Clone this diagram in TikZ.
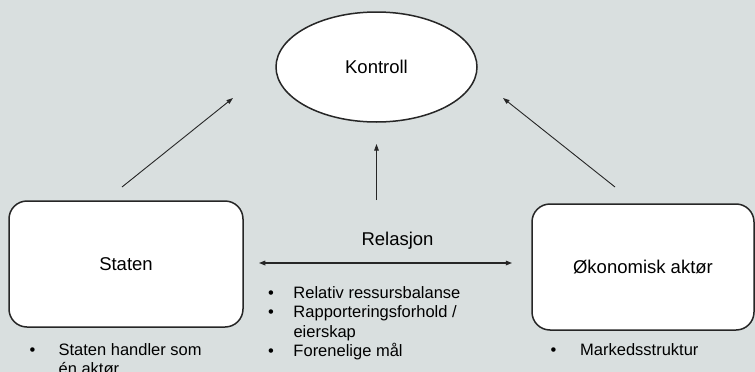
\documentclass[tikz,border=0pt]{standalone}
\usepackage{fontspec}
\setmainfont{Liberation Sans}
\usepackage{xcolor}
\usepackage{tikz}
\usetikzlibrary{arrows.meta,shapes.geometric}
\definecolor{slide}{RGB}{217,223,223}

\begin{document}
\begin{tikzpicture}[
  x=1pt, y=-1pt,
  >={Triangle[length=6.5pt,width=4.5pt]},
  actor/.style={draw=black!85, line width=1.5pt, rounded corners=18pt,
                fill=white, inner sep=0pt, font=\fontsize{18.5}{21}\selectfont},
  goal/.style={ellipse, draw=black!85, line width=1.5pt, fill=white,
               minimum width=201pt, minimum height=110pt, inner sep=0pt,
               font=\fontsize{18.5}{21}\selectfont},
  tag/.style={font=\fontsize{18.5}{21}\selectfont, inner sep=0pt, anchor=base},
  points/.style={font=\fontsize{16.5}{19.5}\selectfont, inner sep=0pt,
                 anchor=base west},
  link/.style={->, line width=0.9pt, black!85},
  relflow/.style={<->, line width=1.5pt, black!85}]

%% Flaten: 755 x 372 px, 1px = 1pt, y nedover
\useasboundingbox (0,0) rectangle (755,372);
\fill[slide] (0,0) rectangle (755,372);

%% ---- kontroll paa toppen ----
\node[goal] (kontroll) at (376.5,67) {Kontroll};

%% ---- de to aktoerene ----
\node[actor, minimum width=234pt, minimum height=126pt] (staten) at (126,264)
  {Staten};
\node[actor, minimum width=222pt, minimum height=126pt] (okonomi) at (643,267)
  {Økonomisk aktør};

\node[tag] (relasjon) at (397.5,245) {Relasjon};

%% ---- punktlister ----
\node[points] (statenpts) at (29.4,355)
  {\begin{tabular}[t]{@{}p{29pt}@{}l@{}}
   \textbullet & Staten handler som\\
               & én aktør
   \end{tabular}};
\node[points] (relpts) at (267.8,298)
  {\begin{tabular}[t]{@{}p{25.5pt}@{}l@{}}
   \textbullet & Relativ ressursbalanse\\
   \textbullet & Rapporteringsforhold /\\
               & eierskap\\
   \textbullet & Forenelige mål
   \end{tabular}};
\node[points] (okonomipts) at (550.4,355)
  {\begin{tabular}[t]{@{}p{29.6pt}@{}l@{}}
   \textbullet & Markedsstruktur
   \end{tabular}};

%% ---- piler mot kontroll, med luft til boksene ----
\coordinate (statenfrom) at (122,187);
\coordinate (statento)   at (233,98);
\coordinate (relfrom)    at (376.5,200);
\coordinate (relto)      at (376.5,144);
\coordinate (okonomifrom) at (615,187);
\coordinate (okonomito)   at (503,98);

\draw[link] (statenfrom) -- (statento);
\draw[link] (relfrom) -- (relto);
\draw[link] (okonomifrom) -- (okonomito);

% relasjonen mellom de to, dobbel pil
\draw[relflow, shorten <=15pt, shorten >=19pt]
  ([yshift=1pt]staten.east) -- ([yshift=1pt]staten.east -| okonomi.west);
\end{tikzpicture}
\end{document}
